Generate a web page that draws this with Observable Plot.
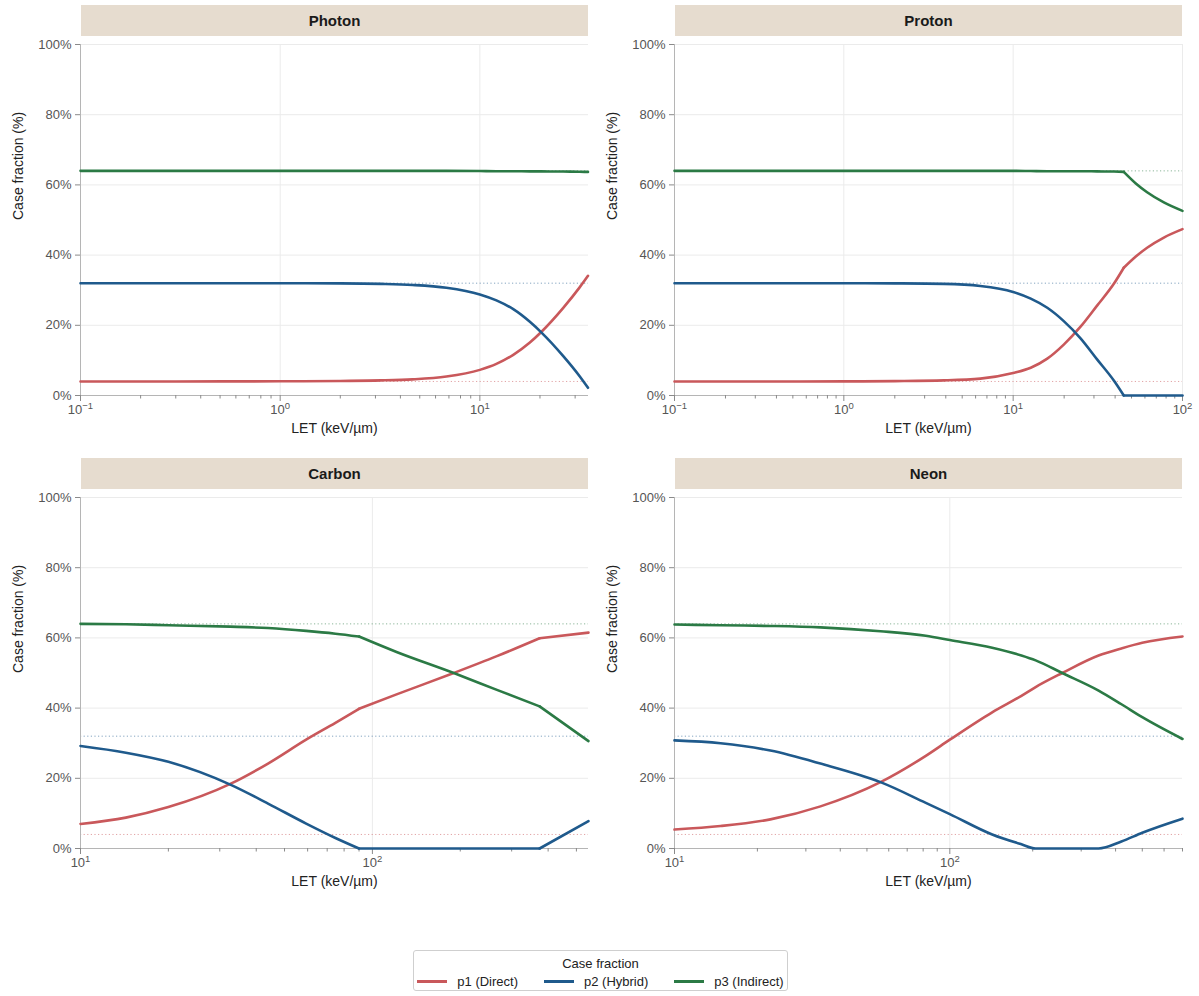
<!DOCTYPE html>
<html>
<head>
<meta charset="utf-8">
<script src="https://cdn.jsdelivr.net/npm/d3@7"></script>
<script src="https://cdn.jsdelivr.net/npm/@observablehq/plot@0.6"></script>
<style>
  body { margin: 0; background: #fff; font-family: "Liberation Sans", Arial, Helvetica, sans-serif; }
  #root { position: relative; width: 1199px; height: 996px; overflow: hidden; }
  .panel { position: absolute; width: 600px; height: 453px; }
  .panel svg { position: absolute; left: 0; top: 0; }
  .strip { position: absolute; left: 81px; top: 5px; width: 507px; height: 31px; background: #e6dccf;
           font-weight: bold; font-size: 15px; color: #1a1a1a; display: flex; align-items: center; justify-content: center; }
  #legend { position: absolute; left: 413px; top: 950px; width: 375px; height: 41px; border: 1px solid #cfcfcf;
            border-radius: 3px; box-sizing: border-box; font-size: 13px; color: #222; }
  #legend .ttl { position: absolute; left: 0; right: 0; top: 5px; text-align: center; }
  #legend .items { position: absolute; left: 0; right: 0; top: 23px; display: flex; justify-content: center; gap: 26px; }
  #legend .item { display: flex; align-items: center; gap: 10px; }
  #legend .sw { width: 30px; height: 3px; }
</style>
</head>
<body>
<div id="root"></div>
<script>
// ---- data ----
const panelNames = ["Photon", "Proton", "Carbon", "Neon"];
const seriesNames = ["p1 (Direct)", "p2 (Hybrid)", "p3 (Indirect)"];
const seriesColors = ["#c9585b", "#1f5a8c", "#2b7a45"];
const baselineValues = [4, 32, 64];
const yTicks = [0, 20, 40, 60, 80, 100];

const photonDomain = [0.1, 35];
const photonKinks = [];
const photonLET = [0.1, 0.3, 1, 2, 3.2, 4.6, 6.8, 10, 12.1, 14.7, 17.8, 20.3, 26.1, 31.6, 34.8];
const photonP1  = [4.0, 4.0, 4.05, 4.15, 4.3, 4.6, 5.4, 7.3, 9.0, 11.6, 15.1, 18.1, 24.9, 30.8, 34.1];
const photonP2  = [32.0, 32.0, 32.0, 31.95, 31.8, 31.5, 30.7, 28.8, 27.1, 24.6, 21.0, 18.0, 11.3, 5.5, 2.2];
const photonP3  = [64.0, 64.0, 64.0, 64.0, 64.0, 64.0, 64.0, 63.95, 63.9, 63.9, 63.85, 63.85, 63.8, 63.75, 63.7];

const protonDomain = [0.1, 100];
const protonKinks = [45];
const protonLET = [0.1, 0.3, 1, 2, 3.9, 6.4, 10, 12.7, 15.9, 19.9, 25, 31.3, 39.4, 45, 53, 61.8, 77.6, 100];
const protonP1  = [4.0, 4.0, 4.02, 4.1, 4.3, 4.8, 6.4, 7.9, 10.5, 14.5, 19.6, 25.6, 31.9, 36.4, 39.6, 42.1, 45.0, 47.4];
const protonP2  = [32.0, 32.0, 32.0, 31.95, 31.8, 31.2, 29.5, 27.6, 25.0, 21.2, 16.3, 10.3, 4.2, 0, 0, 0, 0, 0];
const protonP3  = [64.0, 64.0, 64.0, 64.0, 64.0, 64.0, 64.0, 63.95, 63.9, 63.9, 63.9, 63.85, 63.8, 63.7, 60.4, 57.9, 55.0, 52.6];

const carbonDomain = [10, 550];
const carbonKinks = [90, 374];
const carbonLET = [10, 14.3, 20, 32.6, 43.9, 59.3, 74.7, 90, 121, 190, 267, 374, 550];
const carbonP1  = [7.0, 8.8, 11.8, 18.4, 24.2, 31.0, 35.8, 39.8, 43.9, 50.0, 54.8, 59.9, 61.5];
const carbonP2  = [29.2, 27.3, 24.7, 18.2, 12.8, 7.1, 3.0, 0, 0, 0, 0, 0, 7.8];
const carbonP3  = [64.0, 63.9, 63.6, 63.2, 62.8, 62.0, 61.2, 60.4, 56.0, 50.0, 45.2, 40.5, 30.6];

const neonDomain = [10, 700];
const neonKinks = [];
const neonLET = [10, 14.7, 22.3, 33.9, 56, 81.8, 100, 142.5, 182, 205, 256, 347, 420, 500, 700];
const neonP1  = [5.4, 6.4, 8.3, 12.0, 18.9, 26.4, 31.0, 38.8, 43.5, 46.0, 50.0, 55.0, 57.0, 58.6, 60.4];
const neonP2  = [30.8, 30.0, 27.9, 24.2, 18.9, 13.0, 9.8, 4.0, 1.2, 0, 0, 0, 2.0, 4.5, 8.5];
const neonP3  = [63.8, 63.6, 63.4, 63.0, 61.9, 60.6, 59.4, 57.2, 55.0, 53.6, 50.0, 45.0, 41.1, 37.4, 31.2];

// ---- helpers ----
function logTicks(domain) {
  const major = [], minor = [];
  const k0 = Math.floor(Math.log10(domain[0])), k1 = Math.ceil(Math.log10(domain[1]));
  for (let k = k0; k <= k1; k++) {
    for (let j = 1; j <= 9; j++) {
      const v = +(j * Math.pow(10, k)).toPrecision(6);
      if (v < domain[0] * 0.999 || v > domain[1] * 1.001) continue;
      (j === 1 ? major : minor).push(v);
    }
  }
  return {major, minor};
}

function buildRows(lets, values, kinks) {
  const rows = [];
  values.forEach((vals, si) => {
    lets.forEach((x, i) => {
      const seg = kinks.filter(k => x > k).length;
      rows.push({series: seriesNames[si], let: x, v: vals[i], seg});
      if (kinks.includes(x)) rows.push({series: seriesNames[si], let: x, v: vals[i], seg: seg + 1});
    });
  });
  return rows;
}

const powFmt = d => "10^" + Math.round(Math.log10(d));

function superscriptTicks(svg) {
  svg.querySelectorAll("text").forEach(t => {
    const m = /^10\^(-?\d+)$/.exec(t.textContent.trim());
    if (!m) return;
    const ns = "http://www.w3.org/2000/svg";
    while (t.firstChild) t.removeChild(t.firstChild);
    const base = document.createElementNS(ns, "tspan");
    base.textContent = "10";
    const sup = document.createElementNS(ns, "tspan");
    sup.textContent = m[1].replace("-", "\u2212");
    sup.setAttribute("dy", "-0.45em");
    sup.setAttribute("font-size", "9.5px");
    t.appendChild(base);
    t.appendChild(sup);
  });
}

function makePanel(name, lets, p1, p2, p3, domain, kinks) {
  const rows = buildRows(lets, [p1, p2, p3], kinks);
  const {major, minor} = logTicks(domain);
  const baseRows = baselineValues.map((b, i) => ({series: seriesNames[i], v: b}));
  const svg = Plot.plot({
    width: 600,
    height: 453,
    marginLeft: 80,
    marginRight: 12,
    marginTop: 44,
    marginBottom: 58,
    style: {fontFamily: '"Liberation Sans", Arial, Helvetica, sans-serif', fontSize: "13px", color: "#555", background: "transparent", overflow: "visible"},
    x: {type: "log", domain},
    y: {domain: [0, 100]},
    color: {domain: seriesNames, range: seriesColors},
    marks: [
      Plot.gridY(yTicks, {stroke: "#ebebeb", strokeOpacity: 1, strokeWidth: 1}),
      Plot.gridX(major, {stroke: "#ebebeb", strokeOpacity: 1, strokeWidth: 1}),
      Plot.ruleY(baseRows, {y: "v", stroke: "series", strokeWidth: 1, strokeDasharray: "1.2,2.4", strokeOpacity: 0.55}),
      Plot.ruleX([domain[0]], {stroke: "#b5b5b5", strokeWidth: 1}),
      Plot.ruleY([0], {stroke: "#b5b5b5", strokeWidth: 1}),
      Plot.axisY({ticks: yTicks, tickFormat: d => d + "%", tickSize: 5, tickPadding: 4, stroke: "#8a8a8a", fill: "#555", label: null}),
      Plot.axisX({ticks: major, tickFormat: powFmt, tickSize: 6, tickPadding: 3, stroke: "#8a8a8a", fill: "#555", label: null}),
      Plot.axisX({ticks: minor, tickFormat: () => "", tickSize: 3.5, stroke: "#8a8a8a", label: null}),
      Plot.text(["Case fraction (%)"], {frameAnchor: "left", rotate: -90, dx: -62, fill: "#222", fontSize: 14}),
      Plot.text(["LET (keV/\u00B5m)"], {frameAnchor: "bottom", dy: 37, fill: "#222", fontSize: 14}),
      Plot.line(rows, {x: "let", y: "v", z: d => d.series + "|" + d.seg, stroke: "series", strokeWidth: 2.6, curve: "monotone-x"})
    ]
  });
  superscriptTicks(svg);
  return svg;
}

const root = document.getElementById("root");
const configs = [
  [photonLET, photonP1, photonP2, photonP3, photonDomain, photonKinks],
  [protonLET, protonP1, protonP2, protonP3, protonDomain, protonKinks],
  [carbonLET, carbonP1, carbonP2, carbonP3, carbonDomain, carbonKinks],
  [neonLET, neonP1, neonP2, neonP3, neonDomain, neonKinks]
];
const positions = [[0, 0], [594, 0], [0, 453], [594, 453]];
panelNames.forEach((name, i) => {
  const div = document.createElement("div");
  div.className = "panel";
  div.style.left = positions[i][0] + "px";
  div.style.top = positions[i][1] + "px";
  const [lets, a, b, c, dom, kinks] = configs[i];
  div.appendChild(makePanel(name, lets, a, b, c, dom, kinks));
  const strip = document.createElement("div");
  strip.className = "strip";
  strip.textContent = name;
  div.appendChild(strip);
  root.appendChild(div);
});

// legend
const legend = document.createElement("div");
legend.id = "legend";
const ttl = document.createElement("div");
ttl.className = "ttl";
ttl.textContent = "Case fraction";
legend.appendChild(ttl);
const items = document.createElement("div");
items.className = "items";
seriesNames.forEach((s, i) => {
  const it = document.createElement("div");
  it.className = "item";
  const sw = document.createElement("div");
  sw.className = "sw";
  sw.style.background = seriesColors[i];
  const lb = document.createElement("span");
  lb.textContent = s;
  it.appendChild(sw);
  it.appendChild(lb);
  items.appendChild(it);
});
legend.appendChild(items);
root.appendChild(legend);
</script>
</body>
</html>
